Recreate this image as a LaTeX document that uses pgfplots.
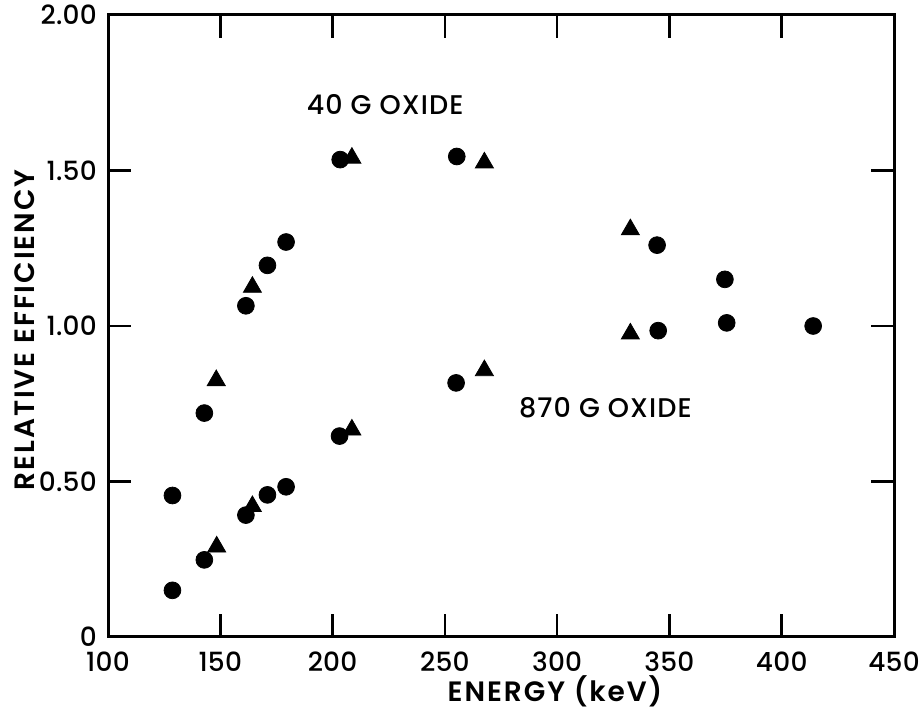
\documentclass[border=0pt]{standalone}
\usepackage{pgfplots}
\pgfplotsset{compat=1.18}
\usepackage{fontspec}
\setmainfont{Poppins}[UprightFont={* Medium}, BoldFont={* SemiBold}, LetterSpace=4]
\newfontfamily\tickfont{Poppins}[UprightFont={* Medium}, LetterSpace=1]
\newfontfamily\lblfont{Poppins}[UprightFont={* SemiBold}, LetterSpace=7]
\begin{document}
\begin{tikzpicture}
\begin{axis}[
  name=ax, at={(0,0)}, anchor=south west,
  scale only axis, width=393pt, height=311pt,
  xmin=100, xmax=450, ymin=0, ymax=2,
  xtick={100,150,...,450},
  ytick={0,0.5,1,1.5,2},
  yticklabels={0,0.50,1.00,1.50,2.00},
  tick align=inside, major tick length=11.5pt,
  tick style={line width=1.3pt,black},
  axis line style={line width=1.5pt},
  tick label style={font=\tickfont\fontsize{13.2}{15}\selectfont, inner sep=1pt},
  /pgf/number format/assume math mode=true,
  xticklabel style={yshift=-6.4pt},
  yticklabel style={xshift=-4.4pt},
  clip=false,
]
% 40 G oxide
\addplot[only marks, mark=*, mark size=4.2pt, black] coordinates {
 (128.7,0.455) (142.9,0.72) (161.4,1.065) (171,1.195) (179.3,1.27)
 (203.4,1.535) (255.3,1.545) (344.5,1.26) (374.7,1.15)};
\addplot[only marks, mark=triangle*, mark size=5.2pt, black] coordinates {
 (148.2,0.825) (164.3,1.125) (208.6,1.54) (267.6,1.525) (332.6,1.31)};
% 870 G oxide
\addplot[only marks, mark=*, mark size=4.2pt, black] coordinates {
 (128.7,0.15) (142.9,0.248) (161.4,0.392) (171,0.457) (179.3,0.483)
 (203.1,0.646) (255,0.817) (345,0.985) (375.5,1.01) (414,1.0)};
\addplot[only marks, mark=triangle*, mark size=5.2pt, black] coordinates {
 (148.4,0.29) (164.3,0.42) (208.6,0.666) (267.6,0.857) (332.6,0.975)};
\node[font=\fontsize{13.5}{15}\selectfont] at (axis cs:223.4,1.711) {40 G OXIDE};
\node[font=\fontsize{13.5}{15}\selectfont] at (axis cs:321.5,0.736) {870 G OXIDE};
\end{axis}
\node[font=\lblfont\fontsize{14}{16}\selectfont] at (223.5pt,-27.3pt) {ENERGY (keV)};
\node[font=\lblfont\fontsize{14}{16}\selectfont, rotate=90] at (-41.5pt,153.5pt) {RELATIVE EFFICIENCY};
\pgfresetboundingbox
\useasboundingbox (-54pt,-36.5pt) rectangle (408pt,318.5pt);
\end{tikzpicture}
\end{document}
